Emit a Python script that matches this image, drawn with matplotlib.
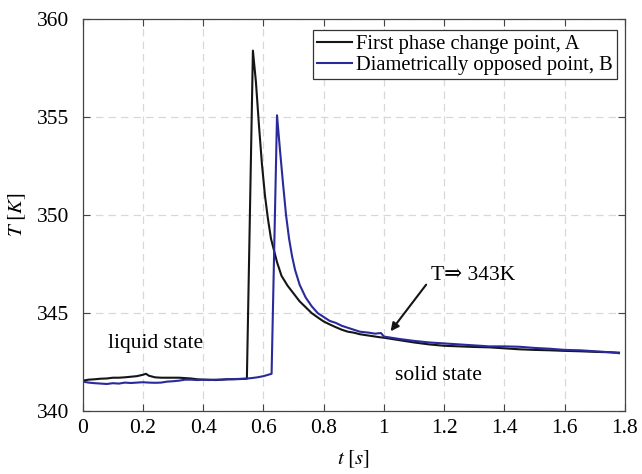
import matplotlib
matplotlib.use('Agg')
import matplotlib.pyplot as plt

plt.rcParams['font.family'] = ['Liberation Serif', 'DejaVu Serif']
plt.rcParams['mathtext.fontset'] = 'stix'

# punto A (primeiro ponto de mudanca de fase)
t_a = [0.0, 0.02, 0.04, 0.06, 0.08, 0.10, 0.12, 0.14, 0.16, 0.18, 0.20, 0.21, 0.22,
       0.24, 0.26, 0.28, 0.30, 0.32, 0.34, 0.36, 0.38, 0.40, 0.42, 0.44, 0.46, 0.48,
       0.50, 0.52, 0.545, 0.565, 0.575, 0.585, 0.595, 0.605, 0.615, 0.625, 0.635,
       0.645, 0.66, 0.68, 0.70, 0.72, 0.74, 0.76, 0.78, 0.80, 0.82, 0.84, 0.86, 0.88,
       0.90, 0.92, 0.95, 0.98, 1.0, 1.05, 1.1, 1.15, 1.2, 1.25, 1.3, 1.35, 1.4, 1.45,
       1.5, 1.55, 1.6, 1.65, 1.7, 1.75, 1.78]
T_a = [341.55, 341.6, 341.62, 341.65, 341.66, 341.7, 341.7, 341.72, 341.75, 341.78,
       341.85, 341.9, 341.8, 341.72, 341.7, 341.7, 341.7, 341.7, 341.68, 341.66, 341.62,
       341.6, 341.6, 341.58, 341.6, 341.62, 341.62, 341.63, 341.65, 358.4, 356.8, 354.6,
       352.6, 351.0, 349.8, 348.8, 348.2, 347.6, 346.9, 346.4, 346.0, 345.6, 345.3,
       345.0, 344.78, 344.57, 344.42, 344.28, 344.15, 344.05, 344.0, 343.92, 343.85,
       343.78, 343.74, 343.62, 343.5, 343.4, 343.33, 343.3, 343.27, 343.25, 343.2,
       343.15, 343.12, 343.1, 343.07, 343.05, 343.02, 343.0, 342.98]

# punto B (diametralmente oposto)
t_b = [0.0, 0.02, 0.04, 0.06, 0.08, 0.10, 0.12, 0.14, 0.16, 0.18, 0.20, 0.22, 0.24,
       0.26, 0.28, 0.30, 0.32, 0.34, 0.36, 0.38, 0.40, 0.42, 0.44, 0.46, 0.48, 0.50,
       0.52, 0.54, 0.56, 0.58, 0.60, 0.627, 0.645, 0.655, 0.665, 0.675, 0.685, 0.695,
       0.705, 0.72, 0.74, 0.76, 0.78, 0.80, 0.82, 0.84, 0.86, 0.88, 0.90, 0.92, 0.95,
       0.97, 0.99, 1.0, 1.05, 1.1, 1.15, 1.2, 1.25, 1.3, 1.35, 1.4, 1.45, 1.5, 1.55,
       1.6, 1.65, 1.7, 1.75, 1.78]
T_b = [341.5, 341.45, 341.42, 341.4, 341.38, 341.42, 341.4, 341.45, 341.43, 341.45,
       341.47, 341.45, 341.44, 341.45, 341.5, 341.52, 341.55, 341.6, 341.6, 341.58,
       341.6, 341.58, 341.6, 341.6, 341.62, 341.63, 341.64, 341.65, 341.68, 341.72,
       341.78, 341.9, 355.1, 353.3, 351.6, 350.0, 348.8, 347.9, 347.2, 346.45, 345.8,
       345.35, 345.0, 344.8, 344.6, 344.5, 344.35, 344.25, 344.15, 344.05, 344.0,
       343.95, 343.98, 343.8, 343.68, 343.58, 343.5, 343.45, 343.4, 343.35, 343.3,
       343.3, 343.28, 343.22, 343.18, 343.12, 343.1, 343.05, 343.0, 342.95]

fig = plt.figure(figsize=(6.42, 4.74), dpi=100)
ax = fig.add_axes([0.1288, 0.1329, 0.8447, 0.8264])

ax.plot(t_a, T_a, color='#151515', lw=1.5, label='First phase change point, A')
ax.plot(t_b, T_b, color='#2a2a9c', lw=1.5, label='Diametrically opposed point, B')

ax.set_xlim(0, 1.8)
ax.set_ylim(340, 360)
ax.set_xticks([0, 0.2, 0.4, 0.6, 0.8, 1, 1.2, 1.4, 1.6, 1.8])
ax.set_xticklabels(['0', '0.2', '0.4', '0.6', '0.8', '1', '1.2', '1.4', '1.6', '1.8'])
ax.set_yticks([340, 345, 350, 355, 360])
ax.tick_params(direction='in', top=True, right=True, labelsize=15.5, length=5,
               color='#444444')
ax.tick_params(axis='x', pad=6)
ax.tick_params(axis='y', pad=10)
ax.grid(True, ls=(0, (6, 4)), color='#d8d8d8', lw=0.9)
for s in ax.spines.values():
    s.set_color('#444444')
    s.set_linewidth(0.9)

ax.set_xlabel(r'$t\ [s]$', fontsize=15, labelpad=7)
ax.set_ylabel(r'$T\ [K]$', fontsize=15, labelpad=6)

ax.text(0.243, 343.47, 'liquid state', fontsize=15.5, ha='center', va='center')
ax.text(1.18, 341.8, 'solid state', fontsize=15.5, ha='center', va='center')
ax.text(1.155, 346.94, 'T\u21d2 343K', fontsize=15.5, ha='left', va='center')
ax.annotate('', xy=(1.022, 344.07), xytext=(1.14, 346.45),
            arrowprops=dict(arrowstyle='-|>', color='#151515', lw=1.5,
                            shrinkA=0, shrinkB=0, mutation_scale=12))

leg = ax.legend(loc='upper right', bbox_to_anchor=(0.985, 0.972), fontsize=14.8,
                fancybox=False, framealpha=1, edgecolor='#333333',
                handlelength=1.7, handletextpad=0.2, borderpad=0.2,
                labelspacing=0.1, borderaxespad=0)
leg.get_frame().set_linewidth(0.9)

fig.savefig('out.png', dpi=100)
